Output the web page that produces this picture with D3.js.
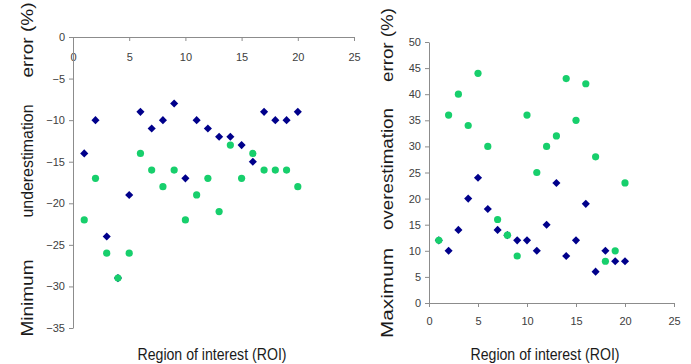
<!DOCTYPE html>
<html>
<head>
<meta charset="utf-8">
<script src="https://cdn.jsdelivr.net/npm/d3@7"></script>
<style>
  body { margin: 0; background: #fff; }
  .tick text { font-family: "Liberation Sans", Arial, sans-serif; font-size: 11px; fill: #404040; }
  .domain, .tick line { stroke: #8c8c8c; }
  .lbl { font-family: "Liberation Sans", Arial, sans-serif; font-size: 16px; fill: #1a1a1a; }
  .vlbl { font-family: "Liberation Sans", Arial, sans-serif; font-size: 17px; fill: #1a1a1a; }
</style>
</head>
<body>
<svg id="chart" width="691" height="364"></svg>
<script>
// region of interest numbers
var roi = [1,2,3,4,5,6,7,8,9,10,11,12,13,14,15,16,17,18,19,20];

// left panel: minimum underestimation error (%)
var minBlue  = [-14,-10,-24,-29,-19,-9,-11,-10,-8,-17,-10,-11,-12,-12,-13,-15,-9,-10,-10,-9];
var minGreen = [-22,-17,-26,-29,-26,-14,-16,-18,-16,-22,-19,-17,-21,-13,-17,-14,-16,-16,-16,-18];

// right panel: maximum overestimation error (%)
var maxBlue  = [12,10,14,20,24,18,14,13,12,12,10,15,23,9,12,19,6,10,8,8];
var maxGreen = [12,36,40,34,44,30,16,13,9,36,25,30,32,43,35,42,28,8,10,23];

var xTicks = [0,5,10,15,20,25];
var minTicks = [0,-5,-10,-15,-20,-25,-30,-35];
var maxTicks = [0,5,10,15,20,25,30,35,40,45,50];

var blue = "#00008b", green = "#17cf6c";

var svg = d3.select("#chart");
var diamond = d3.symbol().type(d3.symbolDiamond2).size(42);

function drawPanel(o){
    var x = d3.scaleLinear().domain([0,25]).range([o.left, o.right]);
    var y = d3.scaleLinear().domain(o.ydom).range([o.bottom, o.top]);
    var g = svg.append("g");

    // x axis sits on the zero line
    g.append("g")
        .attr("transform", "translate(0," + y(0) + ")")
        .call(d3.axisBottom(x).tickValues(xTicks).tickSizeInner(4).tickSizeOuter(0).tickPadding(o.xpad));

    g.append("g")
        .attr("transform", "translate(" + x(0) + ",0)")
        .call(d3.axisLeft(y).tickValues(o.yticks).tickSizeInner(4).tickSizeOuter(0).tickPadding(4));

    // blue diamonds, green circles on top
    g.selectAll(".dia").data(roi).enter().append("path")
        .attr("class", "dia")
        .attr("d", diamond)
        .attr("transform", function(d, i){ return "translate(" + x(d) + "," + y(o.blue[i]) + ")"; })
        .attr("fill", blue);

    g.selectAll(".dot").data(roi).enter().append("circle")
        .attr("class", "dot")
        .attr("cx", function(d){ return x(d); })
        .attr("cy", function(d, i){ return y(o.green[i]); })
        .attr("r", 3.6)
        .attr("fill", green);

    // axis titles
    g.append("text").attr("class", "lbl")
        .attr("x", o.xlabel).attr("y", 360)
        .attr("text-anchor", "middle")
        .attr("textLength", 149).attr("lengthAdjust", "spacingAndGlyphs")
        .text("Region of interest (ROI)");

    // the vertical title is three spread-out words, stretched a bit
    o.words.forEach(function(w){
        g.append("text").attr("class", "vlbl")
            .attr("transform", "translate(" + o.ylabelX + "," + w[1] + ") rotate(-90)")
            .attr("text-anchor", "middle")
            .attr("textLength", w[2]).attr("lengthAdjust", "spacingAndGlyphs")
            .text(w[0]);
    });
}

drawPanel({
    left: 73, right: 354, top: 37, bottom: 328,
    ydom: [-35, 0], yticks: minTicks, xpad: 12,
    blue: minBlue, green: minGreen,
    xlabel: 212, ylabelX: 33,
    words: [["error (%)", 40, 75], ["underestimation", 161, 113], ["Minimum", 298, 77]]
});

drawPanel({
    left: 429, right: 674, top: 42, bottom: 303,
    ydom: [0, 50], yticks: maxTicks, xpad: 10,
    blue: maxBlue, green: maxGreen,
    xlabel: 545, ylabelX: 393,
    words: [["error (%)", 45, 74], ["overestimation", 169, 122], ["Maximum", 293, 90]]
});
</script>
</body>
</html>
